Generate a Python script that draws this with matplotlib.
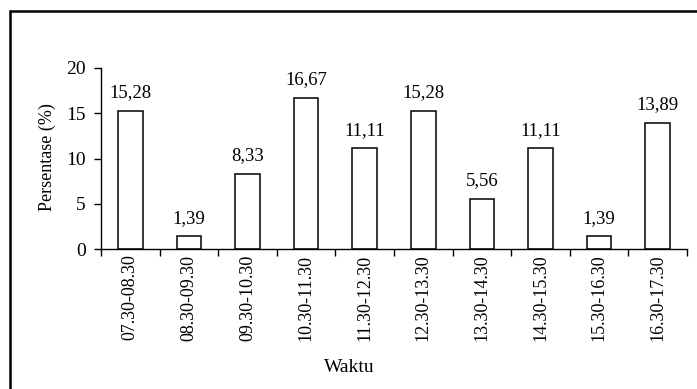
import matplotlib
matplotlib.use("Agg")
import matplotlib.pyplot as plt
from matplotlib.patches import Rectangle

categories = ["07.30-08.30", "08.30-09.30", "09.30-10.30", "10.30-11.30", "11.30-12.30",
              "12.30-13.30", "13.30-14.30", "14.30-15.30", "15.30-16.30", "16.30-17.30"]
values = [15.28, 1.39, 8.33, 16.67, 11.11, 15.28, 5.56, 11.11, 1.39, 13.89]
labels = ["15,28", "1,39", "8,33", "16,67", "11,11", "15,28", "5,56", "11,11", "1,39", "13,89"]

plt.rcParams['font.family'] = ['Liberation Serif', 'DejaVu Serif']
plt.rcParams['font.size'] = 13

W, H = 697, 389
fig = plt.figure(figsize=(W / 100, H / 100), dpi=100)
ax = fig.add_axes([101 / W, 1 - 249 / H, (687 - 101) / W, (249 - 68) / H])

x = list(range(len(values)))
ax.bar(x, values, width=0.42, color='white', edgecolor='black', linewidth=1.1)
for xi, v, lab in zip(x, values, labels):
    ax.annotate(lab, (xi, v), xytext=(0, 7), textcoords='offset points',
                ha='center', va='bottom', fontsize=13.5)

ax.set_xlim(-0.5, len(values) - 0.5)
ax.set_ylim(0, 20)
ax.set_yticks([0, 5, 10, 15, 20])
ax.set_yticklabels(["0", "5", "10", "15", "20"], fontsize=14)
ax.set_xticks(x)
ax.set_xticklabels(categories, rotation=90, fontsize=13)
ax.tick_params(axis='x', which='major', length=0, pad=4)
ax.set_xticks([i - 0.5 for i in range(len(values) + 1)], minor=True)
ax.tick_params(axis='x', which='minor', length=5, direction='out', width=1)
ax.tick_params(axis='y', length=5, direction='out', width=1, pad=6)
for s in ['top', 'right']:
    ax.spines[s].set_visible(False)
ax.spines['left'].set_linewidth(1)
ax.spines['bottom'].set_linewidth(1)

ax.set_ylabel("Persentase (%)", fontsize=13)
ax.yaxis.set_label_coords((56 - 101) / 586, 0.51)
fig.text(349 / W, 1 - 367 / H, "Waktu", ha='center', va='center', fontsize=14)

fig.patches.append(Rectangle((10 / W, -0.1), 1.2, 1 - 11 / H + 0.1,
                             transform=fig.transFigure, fill=False,
                             edgecolor='black', linewidth=1.8))

fig.savefig("out.png", dpi=100)
